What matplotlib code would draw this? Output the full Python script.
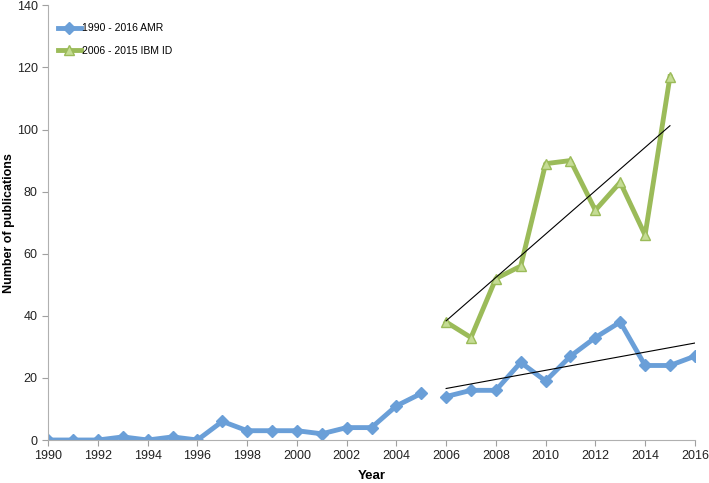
import numpy as np
import matplotlib.pyplot as plt

plt.rcParams['font.family'] = ['Liberation Sans', 'DejaVu Sans']

# data
amr_years_a = [1990, 1991, 1992, 1993, 1994, 1995, 1996, 1997, 1998, 1999,
               2000, 2001, 2002, 2003, 2004, 2005]
amr_vals_a = [0, 0, 0, 1, 0, 1, 0, 6, 3, 3, 3, 2, 4, 4, 11, 15]
amr_years_b = [2006, 2007, 2008, 2009, 2010, 2011, 2012, 2013, 2014, 2015, 2016]
amr_vals_b = [14, 16, 16, 25, 19, 27, 33, 38, 24, 24, 27]
ibm_years = [2006, 2007, 2008, 2009, 2010, 2011, 2012, 2013, 2014, 2015]
ibm_vals = [38, 33, 52, 56, 89, 90, 74, 83, 66, 117]

blue = '#6a9fd8'
green = '#9bbb59'

fig = plt.figure(figsize=(7.09, 4.83), dpi=100)
ax = fig.add_axes([0.068, 0.089, 0.912, 0.9])

ax.plot(amr_years_a, amr_vals_a, '-D', color=blue, lw=3.5, ms=6,
        label='1990 - 2016 AMR')
ax.plot(amr_years_b, amr_vals_b, '-D', color=blue, lw=3.5, ms=6)
ax.plot(ibm_years, ibm_vals, '-^', color=green, lw=3.5, ms=7,
        mfc='#c5dc94', mec=green, label='2006 - 2015 IBM ID')

# linear trendlines
for xs, ys in [(amr_years_b, amr_vals_b), (ibm_years, ibm_vals)]:
    k, b = np.polyfit(xs, ys, 1)
    xx = np.array([xs[0], xs[-1]])
    ax.plot(xx, k * xx + b, color='black', lw=0.8)

ax.set_xlim(1990, 2016)
ax.set_ylim(0, 140)
ax.set_xticks(range(1990, 2017, 2))
ax.set_yticks(range(0, 141, 20))
ax.tick_params(labelsize=9, length=4, color='#a0a0a0', direction='out',
               labelcolor='#222222')
for s in ['top', 'right']:
    ax.spines[s].set_visible(False)
for s in ['left', 'bottom']:
    ax.spines[s].set_color('#b0b0b0')
ax.set_xlabel('Year', fontweight='bold', fontsize=9.5)
ax.xaxis.set_label_coords(0.501, -0.07)
ax.set_ylabel('Number of publications', fontweight='bold', fontsize=9)
ax.yaxis.set_label_coords(-0.051, 0.5)
ax.legend(loc='upper left', bbox_to_anchor=(0.0, 0.98), frameon=False,
          fontsize=7.5, handlelength=2.2, handletextpad=0.1, labelspacing=1.2)

fig.savefig('out.png', dpi=100)
